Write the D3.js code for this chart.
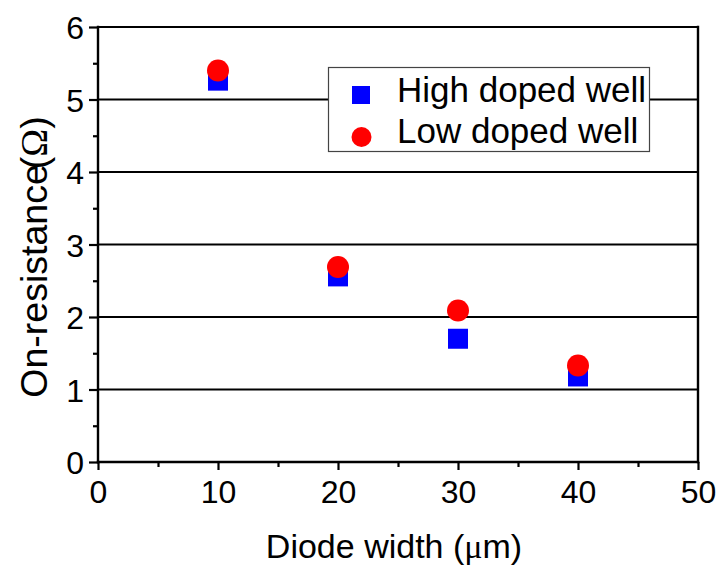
<!DOCTYPE html>
<html>
<head>
<meta charset="utf-8">
<script src="https://cdn.jsdelivr.net/npm/d3@7"></script>
<style>
  html, body { margin: 0; padding: 0; background: #fff; }
  svg { display: block; font-family: "Liberation Sans", Arial, sans-serif; }
</style>
</head>
<body>
<svg id="chart" width="722" height="574"></svg>
<script>
// Diode width (µm) for each measured device
const widths = [10, 20, 30, 40];
// On-resistance (Ω) per well doping
const highDoped = [5.26, 2.56, 1.70, 1.18];
const lowDoped = [5.40, 2.69, 2.09, 1.33];
const seriesNames = ["High doped well", "Low doped well"];
const xTicks = [0, 10, 20, 30, 40, 50];
const yTicks = [0, 1, 2, 3, 4, 5, 6];

const svg = d3.select("#chart");
const plotLeft = 98, plotRight = 698, plotTop = 27, plotBottom = 462;

const x = d3.scaleLinear().domain([0, 50]).range([plotLeft, plotRight]);
const y = d3.scaleLinear().domain([0, 6]).range([plotBottom, plotTop]);

// horizontal grid lines at each major y tick (also the top frame at 6)
svg.append("g")
  .selectAll("line")
  .data(yTicks.filter(d => d > 0))
  .join("line")
  .attr("x1", plotLeft).attr("x2", plotRight + 1)
  .attr("y1", d => y(d)).attr("y2", d => y(d))
  .attr("stroke", "#000").attr("stroke-width", 2.2);

// bottom axis: major + minor ticks
const xAxis = svg.append("g").attr("transform", `translate(0,${plotBottom})`)
  .call(d3.axisBottom(x).tickValues(xTicks).tickSize(8).tickSizeOuter(0).tickPadding(10).tickFormat(d3.format("d")));
svg.append("g").attr("transform", `translate(0,${plotBottom})`)
  .call(d3.axisBottom(x).tickValues([5, 15, 25, 35, 45]).tickSize(5).tickSizeOuter(0).tickFormat(""));

// left axis: major + minor ticks
const yAxis = svg.append("g").attr("transform", `translate(${plotLeft},0)`)
  .call(d3.axisLeft(y).tickValues(yTicks).tickSize(9).tickSizeOuter(0).tickPadding(5).tickFormat(d3.format("d")));
svg.append("g").attr("transform", `translate(${plotLeft},0)`)
  .call(d3.axisLeft(y).tickValues([0.5, 1.5, 2.5, 3.5, 4.5, 5.5]).tickSize(5).tickSizeOuter(0).tickFormat(""));

svg.selectAll(".domain").remove();
svg.selectAll(".tick line").attr("stroke", "#000").attr("stroke-width", 2.2);
svg.selectAll(".tick text")
  .attr("fill", "#000")
  .attr("font-family", "'Liberation Sans', Arial, sans-serif")
  .attr("font-size", 32);
xAxis.selectAll(".tick text").attr("dy", "0.71em");
yAxis.selectAll(".tick text").attr("dy", "0.36em");

// frame lines: left axis, bottom axis, right edge
const frame = svg.append("g").attr("stroke", "#000").attr("stroke-width", 2.4).attr("stroke-linecap", "square");
frame.append("line").attr("x1", plotLeft).attr("x2", plotLeft).attr("y1", plotTop).attr("y2", plotBottom);
frame.append("line").attr("x1", plotLeft).attr("x2", plotRight).attr("y1", plotBottom).attr("y2", plotBottom);
frame.append("line").attr("x1", plotRight).attr("x2", plotRight).attr("y1", plotTop).attr("y2", plotBottom);

// data markers: squares first, circles drawn over them
const sq = 20, r = 11;
svg.append("g")
  .selectAll("rect")
  .data(widths.map((w, i) => ({ w, v: highDoped[i] })))
  .join("rect")
  .attr("x", d => x(d.w) - sq / 2)
  .attr("y", d => y(d.v) - sq / 2)
  .attr("width", sq).attr("height", sq)
  .attr("fill", "#0000ff");

svg.append("g")
  .selectAll("circle")
  .data(widths.map((w, i) => ({ w, v: lowDoped[i] })))
  .join("circle")
  .attr("cx", d => x(d.w))
  .attr("cy", d => y(d.v))
  .attr("r", r)
  .attr("fill", "#ff0000");

// legend
const lg = svg.append("g");
lg.append("rect")
  .attr("x", 328.5).attr("y", 67.5)
  .attr("width", 321).attr("height", 84)
  .attr("fill", "#fff").attr("stroke", "#444").attr("stroke-width", 1.2);
lg.append("rect")
  .attr("x", 352).attr("y", 86).attr("width", 18).attr("height", 18)
  .attr("fill", "#0000ff");
lg.append("circle")
  .attr("cx", 361.5).attr("cy", 137).attr("r", 10)
  .attr("fill", "#ff0000");
lg.selectAll("text")
  .data(seriesNames)
  .join("text")
  .attr("x", 397)
  .attr("y", (d, i) => 101.5 + i * 41.5)
  .attr("font-size", 35)
  .attr("fill", "#000")
  .text(d => d);

// axis titles
const xt = svg.append("text")
  .attr("x", 394).attr("y", 558)
  .attr("text-anchor", "middle")
  .attr("font-size", 34)
  .attr("fill", "#000");
xt.append("tspan").text("Diode width (");
xt.append("tspan").attr("font-family", "'Liberation Serif', 'DejaVu Serif', serif").text("μ");
xt.append("tspan").text("m)");

const yt = svg.append("text")
  .attr("transform", "translate(47,257) rotate(-90)")
  .attr("text-anchor", "middle")
  .attr("font-size", 37.5)
  .attr("fill", "#000");
yt.append("tspan").text("On-resistance");
yt.append("tspan").attr("dx", -5).text("(");
yt.append("tspan").attr("font-family", "'Liberation Serif', 'DejaVu Serif', serif").text("Ω");
yt.append("tspan").text(")");
</script>
</body>
</html>
